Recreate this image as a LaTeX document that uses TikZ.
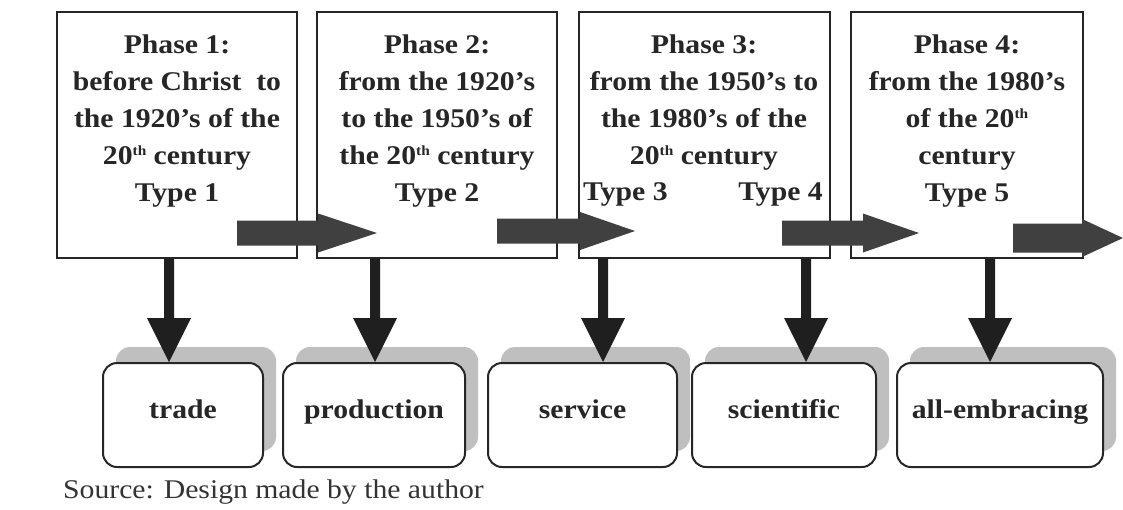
\documentclass[tikz,border=0pt]{standalone}
\usepackage{fontspec}
\setmainfont[FakeStretch=1.1]{Liberation Serif}
\usetikzlibrary{calc,shadows}
\newcommand\thsup{\raisebox{9pt}{\fontsize{14}{14}\selectfont th}}
\newcommand\harr[6]{% x0, xhead, xtip, ycentre, shaft half, head half
  \fill[harrow] (#1,#4-#5) -- (#2,#4-#5) -- (#2,#4-#6) -- (#3,#4) -- (#2,#4+#6) -- (#2,#4+#5) -- (#1,#4+#5) -- cycle;}
\newcommand\vlink[3]{% from phase, to kind box, x coordinate
  \fill[varrow] ($(#1.south -| #3)+(-5,0)$) -- ($(#2.north -| #3)+(-5,-44)$) -- ($(#2.north -| #3)+(-22,-44)$)
    -- (#2.north -| #3) -- ($(#2.north -| #3)+(22,-44)$) -- ($(#2.north -| #3)+(5,-44)$) -- ($(#1.south -| #3)+(5,0)$) -- cycle;}
\begin{document}
\begin{tikzpicture}[x=1pt,y=-1pt,
  phase/.style={draw=black!85,line width=2pt,fill=white,inner sep=0pt,minimum height=246pt},
  ptext/.style={font=\bfseries\fontsize{27}{37}\selectfont,align=center,inner sep=0pt,anchor=north,text=black!85},
  tline/.style={font=\bfseries\fontsize{27}{37}\selectfont,inner sep=0pt,text=black!85},
  kind/.style={draw=black!85,line width=2pt,fill=white,rounded corners=14pt,inner sep=0pt,
    minimum height=104pt,font=\bfseries\fontsize{27}{30}\selectfont,text height=15pt,text depth=9pt,text=black!85,
    drop shadow={shadow xshift=13pt,shadow yshift=16pt,fill=black!25,opacity=1}},
  harrow/.style={fill=black!75},
  varrow/.style={fill=black!88}]
\useasboundingbox (0,0) rectangle (1123,509);

% phase boxes
\node[phase,minimum width=240pt] (p1) at (177,135) {};
\node[phase,minimum width=240pt] (p2) at (437,135) {};
\node[phase,minimum width=251pt] (p3) at (704.5,135) {};
\node[phase,minimum width=232pt] (p4) at (967,135) {};

\node[ptext] (t1) at (177,35) {Phase 1:\\before Christ\ \ to\\the 1920’s of the\\20\thsup{} century\\Type 1};
\node[ptext] (t2) at (437,35) {Phase 2:\\from the 1920’s\\to the 1950’s of\\the 20\thsup{} century\\Type 2};
\node[ptext] (t3) at (704,35) {Phase 3:\\from the 1950’s to\\the 1980’s of the\\20\thsup{} century};
\node[tline,anchor=base west] (t3a) at (583,200) {Type 3};
\node[tline,anchor=base east] (t3b) at (823,200) {Type 4};
\node[ptext] (t4) at (967,35) {Phase 4:\\from the 1980’s\\of the 20\thsup\\century\\Type 5};

% horizontal block arrows
\harr{237}{318}{377}{233}{12.5}{19.5}
\harr{497}{580}{635}{231}{12.5}{19}
\harr{782}{863}{919}{233}{12.5}{19.5}
\harr{1013}{1082}{1123}{238}{14.5}{19}

% kind boxes
\node[kind,minimum width=160pt] (b1) at (183,415) {trade};
\node[kind,minimum width=182pt] (b2) at (374,415) {production};
\node[kind,minimum width=189pt] (b3) at (582.5,415) {service};
\node[kind,minimum width=184pt] (b4) at (784,415) {scientific};
\node[kind,minimum width=206pt] (b5) at (1000,415) {all-embracing};

% vertical arrows
\coordinate (v1) at (169,0);
\coordinate (v2) at (375,0);
\coordinate (v3) at (603,0);
\coordinate (v4) at (806,0);
\coordinate (v5) at (990,0);
\vlink{p1}{b1}{v1}
\vlink{p2}{b2}{v2}
\vlink{p3}{b3}{v3}
\vlink{p3}{b4}{v4}
\vlink{p4}{b5}{v5}

\node[anchor=base west,inner sep=0pt,font=\fontsize{27}{30}\selectfont,text=black!80] (src) at (63,498) {Source: Design made by the author};
\end{tikzpicture}
\end{document}
